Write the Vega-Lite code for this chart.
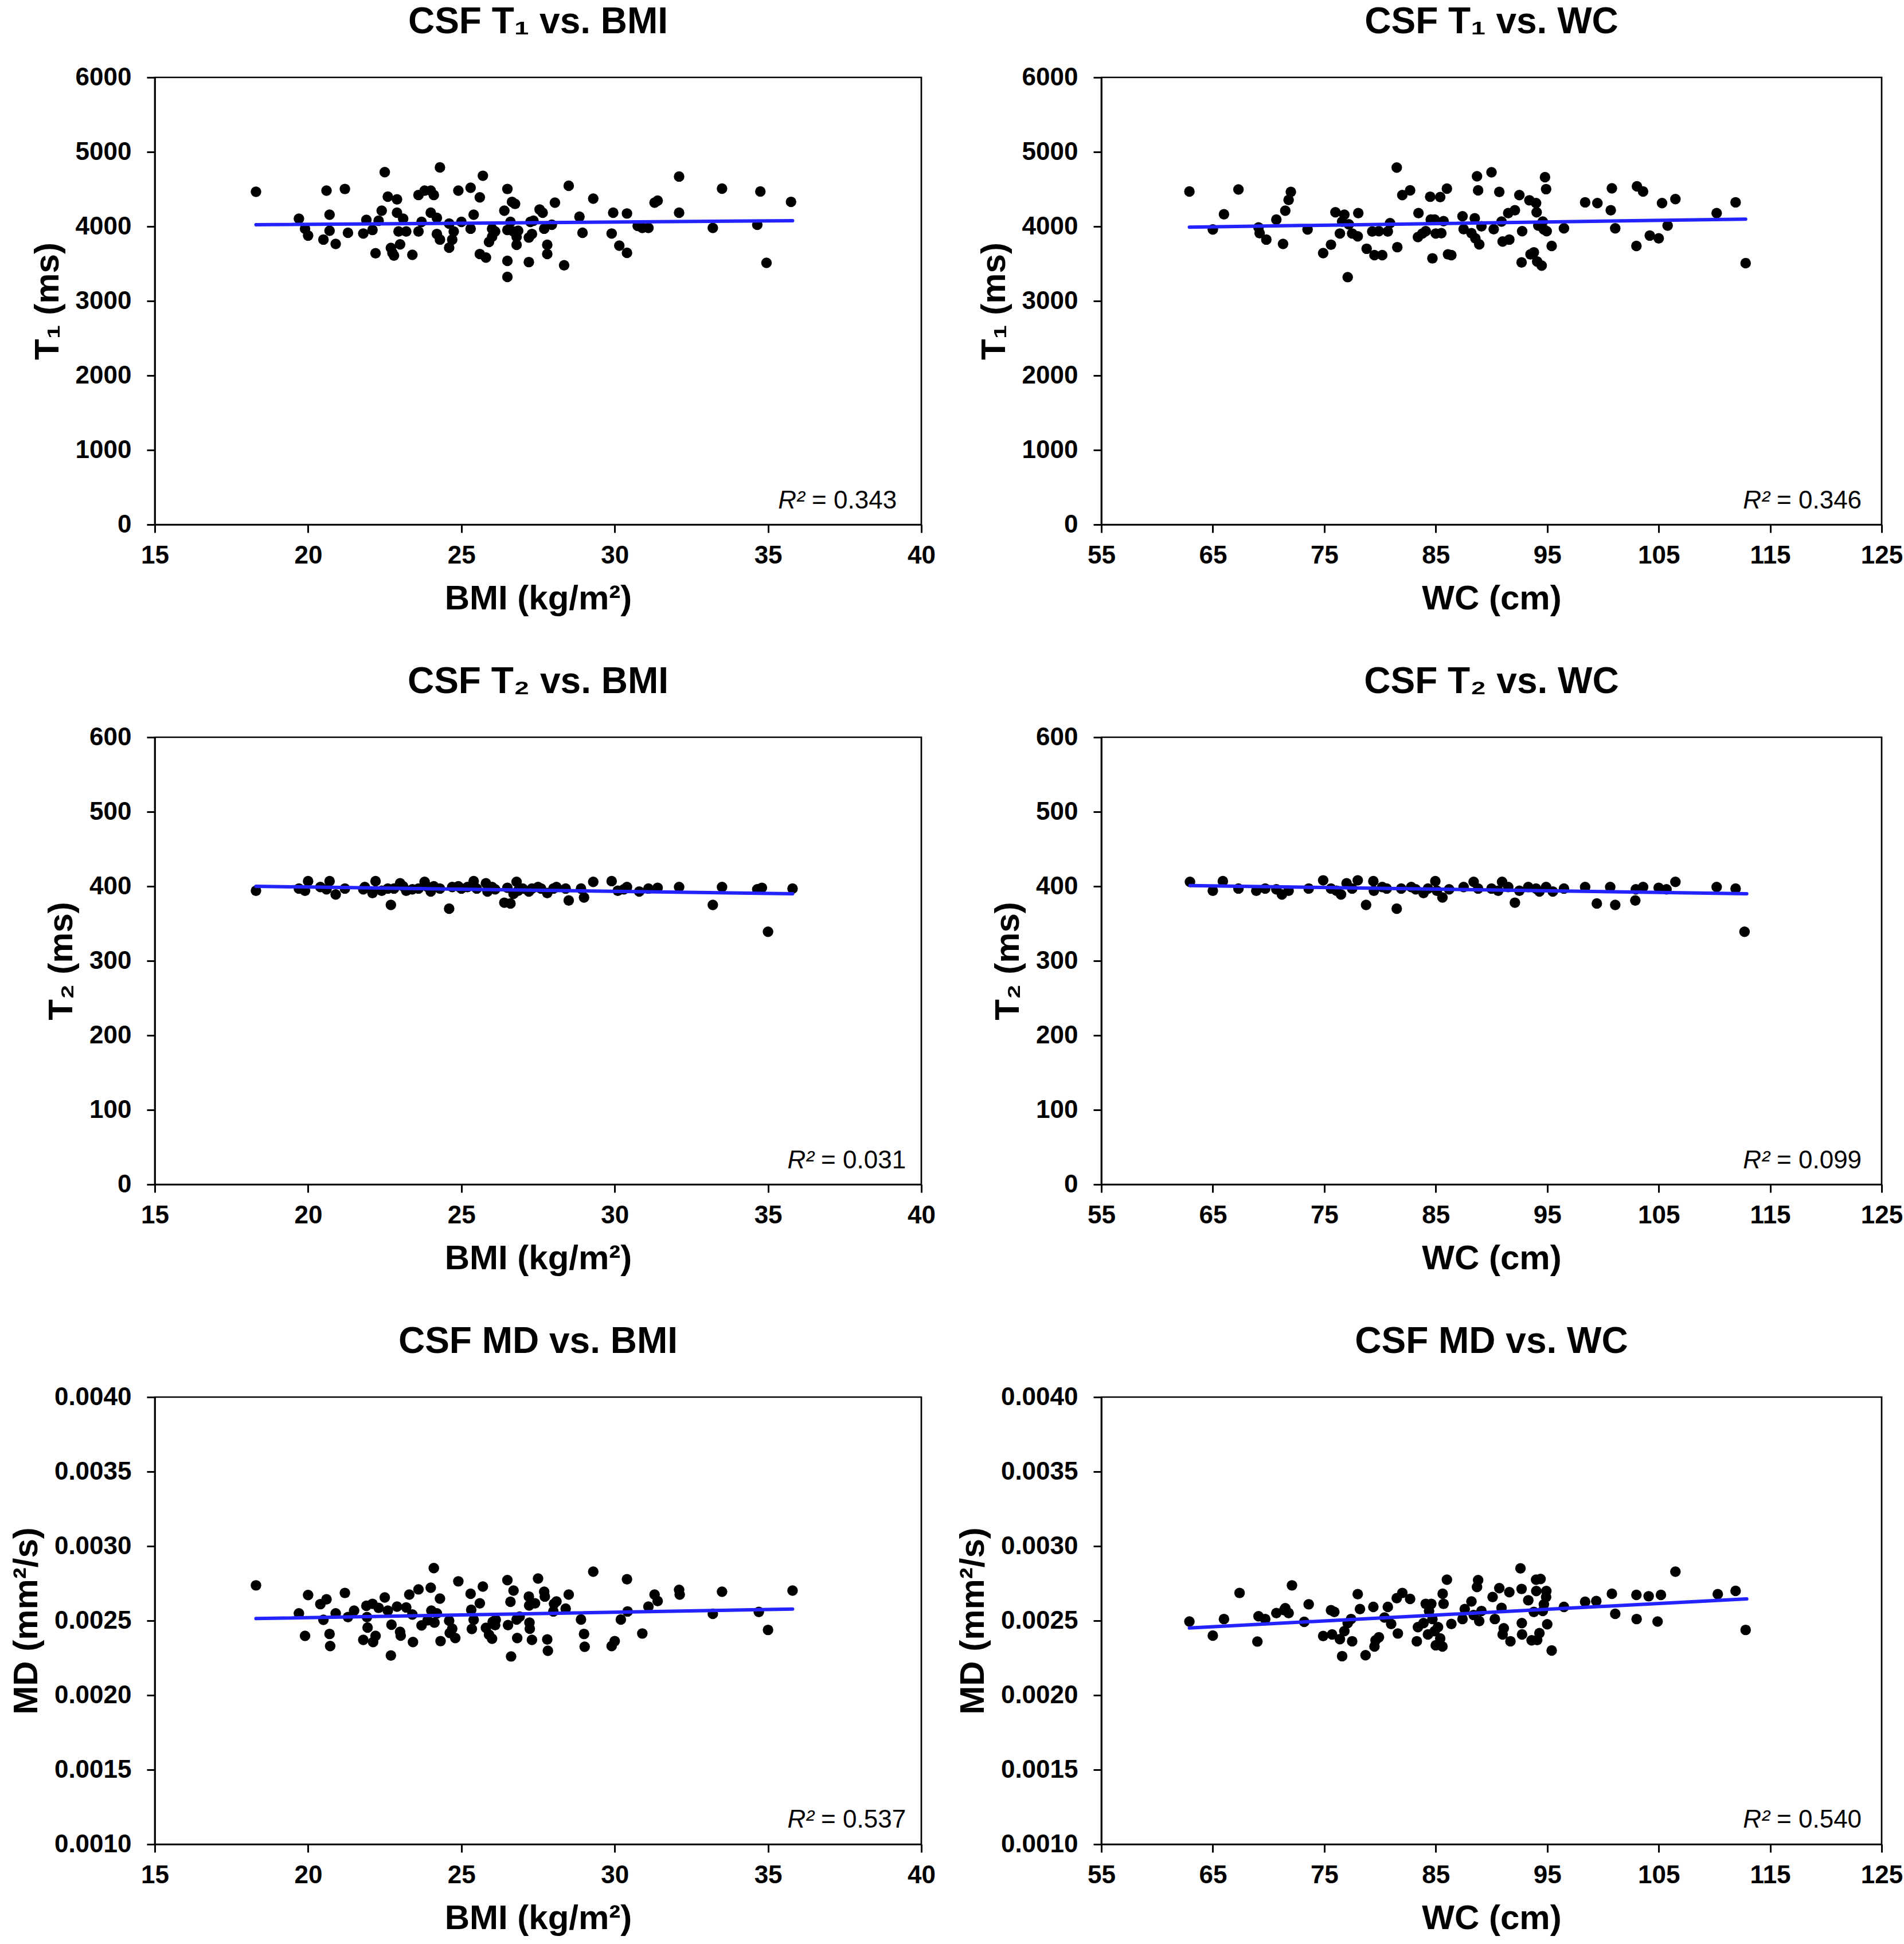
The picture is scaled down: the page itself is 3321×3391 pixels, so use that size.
{
"$schema": "https://vega.github.io/schema/vega-lite/v6.json",
"background": "white",
"padding": {"left": 15, "top": 5, "right": 5, "bottom": 0},
"columns": 2,
"bounds": "flush",
"spacing": {"row": 371, "column": 314},
"datasets": {
"p1": [{"BMI":18.3,"T1":4465},{"BMI":19.7,"T1":4104},{"BMI":19.9,"T1":3970},{"BMI":20.0,"T1":3878},{"BMI":20.5,"T1":3824},{"BMI":20.6,"T1":4481},{"BMI":20.7,"T1":4158},{"BMI":20.7,"T1":3942},{"BMI":20.9,"T1":3765},{"BMI":21.2,"T1":4503},{"BMI":21.3,"T1":3916},{"BMI":21.8,"T1":3905},{"BMI":21.9,"T1":4088},{"BMI":22.1,"T1":3953},{"BMI":22.2,"T1":3641},{"BMI":22.3,"T1":4077},{"BMI":22.4,"T1":4212},{"BMI":22.5,"T1":4729},{"BMI":22.6,"T1":4400},{"BMI":22.7,"T1":3711},{"BMI":22.8,"T1":3609},{"BMI":22.75,"T1":3646},{"BMI":22.9,"T1":4363},{"BMI":22.9,"T1":4185},{"BMI":22.95,"T1":3932},{"BMI":23.0,"T1":3759},{"BMI":23.1,"T1":4104},{"BMI":23.2,"T1":3932},{"BMI":23.4,"T1":3619},{"BMI":23.6,"T1":4422},{"BMI":23.6,"T1":3932},{"BMI":23.7,"T1":4061},{"BMI":23.8,"T1":4481},{"BMI":24.0,"T1":4481},{"BMI":24.1,"T1":4422},{"BMI":24.0,"T1":4185},{"BMI":24.2,"T1":4115},{"BMI":24.2,"T1":3899},{"BMI":24.3,"T1":4793},{"BMI":24.3,"T1":3824},{"BMI":24.6,"T1":4039},{"BMI":24.6,"T1":3716},{"BMI":24.7,"T1":3824},{"BMI":24.75,"T1":3932},{"BMI":24.9,"T1":4481},{"BMI":25.0,"T1":4061},{"BMI":25.3,"T1":4519},{"BMI":25.3,"T1":3970},{"BMI":25.4,"T1":4158},{"BMI":25.6,"T1":4390},{"BMI":25.6,"T1":3630},{"BMI":25.7,"T1":4680},{"BMI":25.8,"T1":3582},{"BMI":25.9,"T1":3792},{"BMI":26.0,"T1":3862},{"BMI":26.0,"T1":3970},{"BMI":26.1,"T1":3932},{"BMI":26.4,"T1":4212},{"BMI":26.5,"T1":4503},{"BMI":26.5,"T1":3953},{"BMI":26.5,"T1":3538},{"BMI":26.5,"T1":3323},{"BMI":26.6,"T1":4061},{"BMI":26.65,"T1":4330},{"BMI":26.7,"T1":3932},{"BMI":26.75,"T1":4303},{"BMI":26.8,"T1":3862},{"BMI":26.8,"T1":3754},{"BMI":26.85,"T1":3942},{"BMI":27.2,"T1":3522},{"BMI":27.2,"T1":3851},{"BMI":27.25,"T1":4061},{"BMI":27.3,"T1":3899},{"BMI":27.35,"T1":4077},{"BMI":27.55,"T1":4228},{"BMI":27.65,"T1":4185},{"BMI":27.7,"T1":3970},{"BMI":27.8,"T1":3754},{"BMI":27.8,"T1":3630},{"BMI":27.95,"T1":4023},{"BMI":28.05,"T1":4319},{"BMI":28.35,"T1":3479},{"BMI":28.5,"T1":4546},{"BMI":28.85,"T1":4131},{"BMI":28.95,"T1":3916},{"BMI":29.3,"T1":4373},{"BMI":29.9,"T1":3905},{"BMI":29.95,"T1":4185},{"BMI":30.15,"T1":3743},{"BMI":30.4,"T1":4174},{"BMI":30.4,"T1":3646},{"BMI":30.75,"T1":4007},{"BMI":30.9,"T1":3980},{"BMI":31.1,"T1":3980},{"BMI":31.3,"T1":4319},{"BMI":31.4,"T1":4346},{"BMI":32.1,"T1":4670},{"BMI":32.1,"T1":4185},{"BMI":33.2,"T1":3980},{"BMI":33.5,"T1":4508},{"BMI":34.65,"T1":4023},{"BMI":34.75,"T1":4470},{"BMI":34.95,"T1":3511},{"BMI":35.75,"T1":4330}],
"l1": [{"BMI":18.3,"T1":4023},{"BMI":35.8,"T1":4077}],
"p2": [{"WC":62.9,"T1":4469},{"WC":65.0,"T1":3959},{"WC":66.0,"T1":4163},{"WC":67.3,"T1":4496},{"WC":69.1,"T1":3986},{"WC":69.2,"T1":3910},{"WC":69.8,"T1":3824},{"WC":70.7,"T1":4093},{"WC":71.3,"T1":3765},{"WC":71.5,"T1":4211},{"WC":71.8,"T1":4356},{"WC":72.0,"T1":4464},{"WC":73.5,"T1":3959},{"WC":74.9,"T1":3642},{"WC":75.6,"T1":3755},{"WC":76.0,"T1":4190},{"WC":76.4,"T1":3905},{"WC":76.6,"T1":4066},{"WC":76.8,"T1":4157},{"WC":77.1,"T1":3320},{"WC":77.2,"T1":4029},{"WC":77.5,"T1":3905},{"WC":78.0,"T1":3867},{"WC":78.05,"T1":4179},{"WC":78.8,"T1":3701},{"WC":79.3,"T1":3932},{"WC":79.5,"T1":3615},{"WC":79.9,"T1":3937},{"WC":80.2,"T1":3615},{"WC":80.7,"T1":3932},{"WC":80.9,"T1":4045},{"WC":81.5,"T1":4791},{"WC":81.55,"T1":3722},{"WC":82.0,"T1":4421},{"WC":82.7,"T1":4485},{"WC":83.4,"T1":3857},{"WC":83.45,"T1":4179},{"WC":83.8,"T1":3905},{"WC":84.1,"T1":3937},{"WC":84.5,"T1":4399},{"WC":84.55,"T1":4093},{"WC":84.7,"T1":3572},{"WC":84.9,"T1":4093},{"WC":85.0,"T1":3905},{"WC":85.4,"T1":4394},{"WC":85.5,"T1":3910},{"WC":85.7,"T1":4071},{"WC":86.0,"T1":4507},{"WC":86.1,"T1":3626},{"WC":86.4,"T1":3615},{"WC":87.4,"T1":4136},{"WC":87.5,"T1":3964},{"WC":88.2,"T1":3910},{"WC":88.5,"T1":4109},{"WC":88.55,"T1":3840},{"WC":88.7,"T1":4673},{"WC":88.8,"T1":4485},{"WC":88.9,"T1":3760},{"WC":89.1,"T1":4002},{"WC":90.0,"T1":4727},{"WC":90.2,"T1":3964},{"WC":90.7,"T1":4464},{"WC":90.9,"T1":4066},{"WC":91.0,"T1":3798},{"WC":91.5,"T1":4179},{"WC":91.6,"T1":3824},{"WC":92.1,"T1":4217},{"WC":92.5,"T1":4421},{"WC":92.7,"T1":3518},{"WC":92.75,"T1":3937},{"WC":93.4,"T1":4351},{"WC":93.5,"T1":3626},{"WC":93.8,"T1":3653},{"WC":94.0,"T1":4313},{"WC":94.05,"T1":4190},{"WC":94.1,"T1":3529},{"WC":94.2,"T1":4012},{"WC":94.5,"T1":3475},{"WC":94.6,"T1":4066},{"WC":94.7,"T1":3959},{"WC":94.8,"T1":4662},{"WC":94.9,"T1":4501},{"WC":94.95,"T1":3937},{"WC":95.4,"T1":3738},{"WC":96.5,"T1":3975},{"WC":98.4,"T1":4324},{"WC":99.5,"T1":4313},{"WC":100.7,"T1":4217},{"WC":100.8,"T1":4512},{"WC":101.1,"T1":3975},{"WC":103.0,"T1":3738},{"WC":103.05,"T1":4539},{"WC":103.6,"T1":4469},{"WC":104.2,"T1":3878},{"WC":105.0,"T1":3840},{"WC":105.3,"T1":4313},{"WC":105.8,"T1":4012},{"WC":106.5,"T1":4367},{"WC":110.2,"T1":4179},{"WC":111.9,"T1":4324},{"WC":112.8,"T1":3508}],
"l2": [{"WC":62.9,"T1":3991},{"WC":112.8,"T1":4098}],
"p3": [{"BMI":18.3,"T2":394},{"BMI":19.7,"T2":397},{"BMI":19.9,"T2":394},{"BMI":20.0,"T2":407},{"BMI":20.4,"T2":399},{"BMI":20.6,"T2":396},{"BMI":20.7,"T2":407},{"BMI":20.9,"T2":389},{"BMI":21.2,"T2":397},{"BMI":21.8,"T2":396},{"BMI":21.85,"T2":399},{"BMI":22.1,"T2":391},{"BMI":22.2,"T2":407},{"BMI":22.4,"T2":394},{"BMI":22.6,"T2":397},{"BMI":22.7,"T2":375},{"BMI":22.8,"T2":397},{"BMI":23.0,"T2":404},{"BMI":23.1,"T2":400},{"BMI":23.2,"T2":394},{"BMI":23.4,"T2":396},{"BMI":23.6,"T2":397},{"BMI":23.8,"T2":406},{"BMI":23.9,"T2":399},{"BMI":24.0,"T2":393},{"BMI":24.1,"T2":400},{"BMI":24.3,"T2":397},{"BMI":24.6,"T2":370},{"BMI":24.7,"T2":399},{"BMI":24.9,"T2":400},{"BMI":25.0,"T2":397},{"BMI":25.2,"T2":399},{"BMI":25.4,"T2":407},{"BMI":25.5,"T2":397},{"BMI":25.8,"T2":404},{"BMI":25.85,"T2":393},{"BMI":26.0,"T2":399},{"BMI":26.1,"T2":396},{"BMI":26.4,"T2":378},{"BMI":26.5,"T2":398},{"BMI":26.6,"T2":377},{"BMI":26.7,"T2":390},{"BMI":26.8,"T2":406},{"BMI":26.85,"T2":394},{"BMI":27.0,"T2":397},{"BMI":27.2,"T2":393},{"BMI":27.3,"T2":397},{"BMI":27.5,"T2":399},{"BMI":27.6,"T2":397},{"BMI":27.8,"T2":391},{"BMI":28.0,"T2":397},{"BMI":28.1,"T2":399},{"BMI":28.4,"T2":397},{"BMI":28.5,"T2":381},{"BMI":28.9,"T2":397},{"BMI":29.0,"T2":385},{"BMI":29.3,"T2":406},{"BMI":29.9,"T2":407},{"BMI":30.1,"T2":394},{"BMI":30.3,"T2":396},{"BMI":30.4,"T2":399},{"BMI":30.8,"T2":393},{"BMI":31.1,"T2":397},{"BMI":31.4,"T2":398},{"BMI":32.1,"T2":399},{"BMI":33.2,"T2":375},{"BMI":33.5,"T2":399},{"BMI":34.65,"T2":396},{"BMI":34.8,"T2":398},{"BMI":35.0,"T2":339},{"BMI":35.8,"T2":397}],
"l3": [{"BMI":18.3,"T2":400},{"BMI":35.8,"T2":390}],
"p4": [{"WC":62.95,"T2":406},{"WC":65.0,"T2":394},{"WC":65.9,"T2":407},{"WC":67.3,"T2":397},{"WC":68.9,"T2":394},{"WC":69.7,"T2":397},{"WC":70.7,"T2":396},{"WC":71.2,"T2":389},{"WC":71.8,"T2":394},{"WC":73.6,"T2":397},{"WC":74.9,"T2":408},{"WC":75.6,"T2":397},{"WC":76.1,"T2":394},{"WC":76.5,"T2":389},{"WC":77.0,"T2":404},{"WC":77.5,"T2":397},{"WC":78.0,"T2":408},{"WC":78.75,"T2":375},{"WC":79.4,"T2":407},{"WC":79.45,"T2":394},{"WC":80.2,"T2":399},{"WC":80.6,"T2":397},{"WC":81.5,"T2":370},{"WC":81.9,"T2":397},{"WC":82.8,"T2":399},{"WC":83.2,"T2":396},{"WC":83.9,"T2":391},{"WC":84.3,"T2":397},{"WC":84.96,"T2":407},{"WC":85.1,"T2":394},{"WC":85.6,"T2":385},{"WC":86.2,"T2":396},{"WC":87.5,"T2":399},{"WC":88.4,"T2":406},{"WC":88.8,"T2":397},{"WC":90.0,"T2":397},{"WC":90.6,"T2":394},{"WC":90.95,"T2":406},{"WC":91.5,"T2":399},{"WC":92.1,"T2":378},{"WC":92.5,"T2":394},{"WC":93.3,"T2":399},{"WC":94.0,"T2":397},{"WC":94.3,"T2":393},{"WC":94.9,"T2":399},{"WC":95.5,"T2":393},{"WC":96.5,"T2":397},{"WC":98.4,"T2":399},{"WC":99.45,"T2":377},{"WC":100.65,"T2":399},{"WC":101.1,"T2":375},{"WC":102.9,"T2":381},{"WC":102.95,"T2":396},{"WC":103.6,"T2":399},{"WC":105.0,"T2":398},{"WC":105.7,"T2":396},{"WC":106.5,"T2":406},{"WC":110.2,"T2":399},{"WC":111.9,"T2":397},{"WC":112.7,"T2":339}],
"l4": [{"WC":62.95,"T2":401},{"WC":112.9,"T2":390}],
"p5": [{"BMI":18.3,"MD":0.002737},{"BMI":19.7,"MD":0.002549},{"BMI":19.9,"MD":0.002398},{"BMI":20.0,"MD":0.002672},{"BMI":20.4,"MD":0.002611},{"BMI":20.5,"MD":0.002506},{"BMI":20.6,"MD":0.002643},{"BMI":20.7,"MD":0.002411},{"BMI":20.72,"MD":0.00233},{"BMI":20.9,"MD":0.002549},{"BMI":21.2,"MD":0.002686},{"BMI":21.3,"MD":0.002524},{"BMI":21.5,"MD":0.002567},{"BMI":21.8,"MD":0.002371},{"BMI":21.9,"MD":0.0026},{"BMI":21.92,"MD":0.002524},{"BMI":21.94,"MD":0.002454},{"BMI":22.1,"MD":0.002613},{"BMI":22.12,"MD":0.002357},{"BMI":22.2,"MD":0.002398},{"BMI":22.3,"MD":0.002586},{"BMI":22.5,"MD":0.002656},{"BMI":22.6,"MD":0.002567},{"BMI":22.7,"MD":0.002266},{"BMI":22.72,"MD":0.002473},{"BMI":22.9,"MD":0.002594},{"BMI":23.0,"MD":0.002425},{"BMI":23.02,"MD":0.0024},{"BMI":23.2,"MD":0.002589},{"BMI":23.3,"MD":0.002675},{"BMI":23.4,"MD":0.002541},{"BMI":23.42,"MD":0.002357},{"BMI":23.6,"MD":0.00271},{"BMI":23.7,"MD":0.002468},{"BMI":23.9,"MD":0.002503},{"BMI":24.0,"MD":0.002721},{"BMI":24.02,"MD":0.002567},{"BMI":24.1,"MD":0.002853},{"BMI":24.12,"MD":0.002487},{"BMI":24.2,"MD":0.002549},{"BMI":24.3,"MD":0.002648},{"BMI":24.32,"MD":0.002363},{"BMI":24.6,"MD":0.0025},{"BMI":24.62,"MD":0.002417},{"BMI":24.7,"MD":0.002446},{"BMI":24.8,"MD":0.002384},{"BMI":24.9,"MD":0.002764},{"BMI":25.3,"MD":0.002681},{"BMI":25.32,"MD":0.002573},{"BMI":25.34,"MD":0.002444},{"BMI":25.4,"MD":0.002506},{"BMI":25.6,"MD":0.002616},{"BMI":25.7,"MD":0.002729},{"BMI":25.8,"MD":0.002452},{"BMI":25.9,"MD":0.002406},{"BMI":26.0,"MD":0.002379},{"BMI":26.02,"MD":0.002492},{"BMI":26.1,"MD":0.00247},{"BMI":26.12,"MD":0.002506},{"BMI":26.5,"MD":0.002772},{"BMI":26.52,"MD":0.00247},{"BMI":26.6,"MD":0.002627},{"BMI":26.62,"MD":0.00226},{"BMI":26.7,"MD":0.002702},{"BMI":26.8,"MD":0.002508},{"BMI":26.82,"MD":0.002384},{"BMI":26.9,"MD":0.002527},{"BMI":27.2,"MD":0.002662},{"BMI":27.21,"MD":0.002602},{"BMI":27.22,"MD":0.002487},{"BMI":27.23,"MD":0.002446},{"BMI":27.3,"MD":0.002371},{"BMI":27.4,"MD":0.002616},{"BMI":27.5,"MD":0.002783},{"BMI":27.7,"MD":0.002694},{"BMI":27.72,"MD":0.002662},{"BMI":27.8,"MD":0.002374},{"BMI":27.82,"MD":0.002298},{"BMI":28.0,"MD":0.002562},{"BMI":28.02,"MD":0.002613},{"BMI":28.1,"MD":0.002629},{"BMI":28.4,"MD":0.002581},{"BMI":28.5,"MD":0.002675},{"BMI":28.9,"MD":0.002508},{"BMI":29.0,"MD":0.002411},{"BMI":29.02,"MD":0.002325},{"BMI":29.3,"MD":0.002829},{"BMI":29.9,"MD":0.00233},{"BMI":30.0,"MD":0.002363},{"BMI":30.2,"MD":0.002508},{"BMI":30.4,"MD":0.002778},{"BMI":30.42,"MD":0.002562},{"BMI":30.9,"MD":0.002414},{"BMI":31.1,"MD":0.002594},{"BMI":31.3,"MD":0.002675},{"BMI":31.4,"MD":0.002632},{"BMI":32.1,"MD":0.002707},{"BMI":32.12,"MD":0.002675},{"BMI":33.2,"MD":0.002546},{"BMI":33.5,"MD":0.002694},{"BMI":34.7,"MD":0.002559},{"BMI":35.0,"MD":0.002438},{"BMI":35.8,"MD":0.002702}],
"l5": [{"BMI":18.3,"MD":0.002514},{"BMI":35.8,"MD":0.002578}],
"p6": [{"WC":62.9,"MD":0.002494},{"WC":65.0,"MD":0.0024},{"WC":66.0,"MD":0.002511},{"WC":67.4,"MD":0.002686},{"WC":69.0,"MD":0.00236},{"WC":69.1,"MD":0.00253},{"WC":69.7,"MD":0.002511},{"WC":70.7,"MD":0.002551},{"WC":71.4,"MD":0.00257},{"WC":71.5,"MD":0.002584},{"WC":71.8,"MD":0.002551},{"WC":72.1,"MD":0.002737},{"WC":73.2,"MD":0.002492},{"WC":73.6,"MD":0.00261},{"WC":74.9,"MD":0.002397},{"WC":75.6,"MD":0.00257},{"WC":75.7,"MD":0.002408},{"WC":75.9,"MD":0.002559},{"WC":76.4,"MD":0.002376},{"WC":76.6,"MD":0.002262},{"WC":76.8,"MD":0.00243},{"WC":77.1,"MD":0.002484},{"WC":77.4,"MD":0.002511},{"WC":77.5,"MD":0.002362},{"WC":78.0,"MD":0.002678},{"WC":78.2,"MD":0.002578},{"WC":78.7,"MD":0.002268},{"WC":79.4,"MD":0.002592},{"WC":79.5,"MD":0.002327},{"WC":79.6,"MD":0.002368},{"WC":79.9,"MD":0.002389},{"WC":80.4,"MD":0.002521},{"WC":80.7,"MD":0.002592},{"WC":81.0,"MD":0.002478},{"WC":81.5,"MD":0.002651},{"WC":81.6,"MD":0.002414},{"WC":82.0,"MD":0.002686},{"WC":82.7,"MD":0.002646},{"WC":83.3,"MD":0.002362},{"WC":83.4,"MD":0.002457},{"WC":83.9,"MD":0.002484},{"WC":84.1,"MD":0.002613},{"WC":84.3,"MD":0.002408},{"WC":84.4,"MD":0.002565},{"WC":84.6,"MD":0.002613},{"WC":84.7,"MD":0.002511},{"WC":84.9,"MD":0.00243},{"WC":85.0,"MD":0.002335},{"WC":85.2,"MD":0.002457},{"WC":85.4,"MD":0.002381},{"WC":85.6,"MD":0.002327},{"WC":85.62,"MD":0.002681},{"WC":85.7,"MD":0.002613},{"WC":86.0,"MD":0.002775},{"WC":86.4,"MD":0.002478},{"WC":87.4,"MD":0.002511},{"WC":87.6,"MD":0.002578},{"WC":88.2,"MD":0.002629},{"WC":88.4,"MD":0.002538},{"WC":88.7,"MD":0.002726},{"WC":88.8,"MD":0.002772},{"WC":88.9,"MD":0.002497},{"WC":89.1,"MD":0.002565},{"WC":90.1,"MD":0.002659},{"WC":90.3,"MD":0.002511},{"WC":90.7,"MD":0.002718},{"WC":90.9,"MD":0.002586},{"WC":91.0,"MD":0.002408},{"WC":91.1,"MD":0.002449},{"WC":91.6,"MD":0.002691},{"WC":91.7,"MD":0.002362},{"WC":92.6,"MD":0.002851},{"WC":92.7,"MD":0.002713},{"WC":92.72,"MD":0.002484},{"WC":92.74,"MD":0.002408},{"WC":93.3,"MD":0.002637},{"WC":93.6,"MD":0.002368},{"WC":93.8,"MD":0.002559},{"WC":94.0,"MD":0.002775},{"WC":94.02,"MD":0.002699},{"WC":94.1,"MD":0.00237},{"WC":94.3,"MD":0.002416},{"WC":94.4,"MD":0.00278},{"WC":94.6,"MD":0.002565},{"WC":94.7,"MD":0.00261},{"WC":94.9,"MD":0.002659},{"WC":94.92,"MD":0.002699},{"WC":95.0,"MD":0.002476},{"WC":95.4,"MD":0.0023},{"WC":96.5,"MD":0.002592},{"WC":98.4,"MD":0.002627},{"WC":99.4,"MD":0.002632},{"WC":100.8,"MD":0.002681},{"WC":101.1,"MD":0.002546},{"WC":103.0,"MD":0.002673},{"WC":103.02,"MD":0.002511},{"WC":104.1,"MD":0.002664},{"WC":104.9,"MD":0.002494},{"WC":105.2,"MD":0.002673},{"WC":106.5,"MD":0.002829},{"WC":110.3,"MD":0.002678},{"WC":111.9,"MD":0.0027},{"WC":112.8,"MD":0.002438}],
"l6": [{"WC":62.9,"MD":0.002451},{"WC":112.9,"MD":0.002646}]
},
"concat": [
{
"width": 1337, "height": 780,
"title": "CSF T₁ vs. BMI",
"layer": [
{"data": {"name": "p1"}, "mark": {"type": "circle", "size": 340, "color": "black", "opacity": 1},
 "encoding": {
  "x": {"field": "BMI", "type": "quantitative", "scale": {"domain": [15, 40], "nice": false, "zero": false}, "axis": {"values": [15, 20, 25, 30, 35, 40], "title": "BMI (kg/m²)"}},
  "y": {"field": "T1", "type": "quantitative", "scale": {"domain": [0, 6000], "nice": false}, "axis": {"values": [0, 1000, 2000, 3000, 4000, 5000, 6000], "format": "d", "title": "T₁ (ms)"}}}},
{"data": {"name": "l1"}, "mark": {"type": "line", "color": "#2323ff", "strokeWidth": 6, "strokeCap": "round"},
 "encoding": {"x": {"field": "BMI", "type": "quantitative"}, "y": {"field": "T1", "type": "quantitative"}}},
{"data": {"values": [{}]}, "mark": {"type": "text", "align": "right", "baseline": "alphabetic", "fontSize": 44, "fontStyle": "italic", "font": "Liberation Sans", "color": "black"},
 "encoding": {"x": {"datum": 36.2, "type": "quantitative"}, "y": {"datum": 215, "type": "quantitative"}, "text": {"value": "R²"}}},
{"data": {"values": [{}]}, "mark": {"type": "text", "align": "left", "baseline": "alphabetic", "fontSize": 44, "font": "Liberation Sans", "color": "black"},
 "encoding": {"x": {"datum": 36.43, "type": "quantitative"}, "y": {"datum": 215, "type": "quantitative"}, "text": {"value": "= 0.343"}}}
]
},
{
"width": 1361, "height": 780,
"title": "CSF T₁ vs. WC",
"layer": [
{"data": {"name": "p2"}, "mark": {"type": "circle", "size": 340, "color": "black", "opacity": 1},
 "encoding": {
  "x": {"field": "WC", "type": "quantitative", "scale": {"domain": [55, 125], "nice": false, "zero": false}, "axis": {"values": [55, 65, 75, 85, 95, 105, 115, 125], "title": "WC (cm)"}},
  "y": {"field": "T1", "type": "quantitative", "scale": {"domain": [0, 6000], "nice": false}, "axis": {"values": [0, 1000, 2000, 3000, 4000, 5000, 6000], "format": "d", "title": "T₁ (ms)"}}}},
{"data": {"name": "l2"}, "mark": {"type": "line", "color": "#2323ff", "strokeWidth": 6, "strokeCap": "round"},
 "encoding": {"x": {"field": "WC", "type": "quantitative"}, "y": {"field": "T1", "type": "quantitative"}}},
{"data": {"values": [{}]}, "mark": {"type": "text", "align": "right", "baseline": "alphabetic", "fontSize": 44, "fontStyle": "italic", "font": "Liberation Sans", "color": "black"},
 "encoding": {"x": {"datum": 114.96, "type": "quantitative"}, "y": {"datum": 215, "type": "quantitative"}, "text": {"value": "R²"}}},
{"data": {"values": [{}]}, "mark": {"type": "text", "align": "left", "baseline": "alphabetic", "fontSize": 44, "font": "Liberation Sans", "color": "black"},
 "encoding": {"x": {"datum": 115.59, "type": "quantitative"}, "y": {"datum": 215, "type": "quantitative"}, "text": {"value": "= 0.346"}}}
]
},
{
"width": 1337, "height": 780,
"title": "CSF T₂ vs. BMI",
"layer": [
{"data": {"name": "p3"}, "mark": {"type": "circle", "size": 340, "color": "black", "opacity": 1},
 "encoding": {
  "x": {"field": "BMI", "type": "quantitative", "scale": {"domain": [15, 40], "nice": false, "zero": false}, "axis": {"values": [15, 20, 25, 30, 35, 40], "title": "BMI (kg/m²)"}},
  "y": {"field": "T2", "type": "quantitative", "scale": {"domain": [0, 600], "nice": false}, "axis": {"values": [0, 100, 200, 300, 400, 500, 600], "format": "d", "title": "T₂ (ms)"}}}},
{"data": {"name": "l3"}, "mark": {"type": "line", "color": "#2323ff", "strokeWidth": 6, "strokeCap": "round"},
 "encoding": {"x": {"field": "BMI", "type": "quantitative"}, "y": {"field": "T2", "type": "quantitative"}}},
{"data": {"values": [{}]}, "mark": {"type": "text", "align": "right", "baseline": "alphabetic", "fontSize": 44, "fontStyle": "italic", "font": "Liberation Sans", "color": "black"},
 "encoding": {"x": {"datum": 36.5, "type": "quantitative"}, "y": {"datum": 21.5, "type": "quantitative"}, "text": {"value": "R²"}}},
{"data": {"values": [{}]}, "mark": {"type": "text", "align": "left", "baseline": "alphabetic", "fontSize": 44, "font": "Liberation Sans", "color": "black"},
 "encoding": {"x": {"datum": 36.73, "type": "quantitative"}, "y": {"datum": 21.5, "type": "quantitative"}, "text": {"value": "= 0.031"}}}
]
},
{
"width": 1361, "height": 780,
"title": "CSF T₂ vs. WC",
"layer": [
{"data": {"name": "p4"}, "mark": {"type": "circle", "size": 340, "color": "black", "opacity": 1},
 "encoding": {
  "x": {"field": "WC", "type": "quantitative", "scale": {"domain": [55, 125], "nice": false, "zero": false}, "axis": {"values": [55, 65, 75, 85, 95, 105, 115, 125], "title": "WC (cm)"}},
  "y": {"field": "T2", "type": "quantitative", "scale": {"domain": [0, 600], "nice": false}, "axis": {"values": [0, 100, 200, 300, 400, 500, 600], "format": "d", "title": "T₂ (ms)"}}}},
{"data": {"name": "l4"}, "mark": {"type": "line", "color": "#2323ff", "strokeWidth": 6, "strokeCap": "round"},
 "encoding": {"x": {"field": "WC", "type": "quantitative"}, "y": {"field": "T2", "type": "quantitative"}}},
{"data": {"values": [{}]}, "mark": {"type": "text", "align": "right", "baseline": "alphabetic", "fontSize": 44, "fontStyle": "italic", "font": "Liberation Sans", "color": "black"},
 "encoding": {"x": {"datum": 114.96, "type": "quantitative"}, "y": {"datum": 21.5, "type": "quantitative"}, "text": {"value": "R²"}}},
{"data": {"values": [{}]}, "mark": {"type": "text", "align": "left", "baseline": "alphabetic", "fontSize": 44, "font": "Liberation Sans", "color": "black"},
 "encoding": {"x": {"datum": 115.59, "type": "quantitative"}, "y": {"datum": 21.5, "type": "quantitative"}, "text": {"value": "= 0.099"}}}
]
},
{
"width": 1337, "height": 780,
"title": "CSF MD vs. BMI",
"layer": [
{"data": {"name": "p5"}, "mark": {"type": "circle", "size": 340, "color": "black", "opacity": 1},
 "encoding": {
  "x": {"field": "BMI", "type": "quantitative", "scale": {"domain": [15, 40], "nice": false, "zero": false}, "axis": {"values": [15, 20, 25, 30, 35, 40], "title": "BMI (kg/m²)"}},
  "y": {"field": "MD", "type": "quantitative", "scale": {"domain": [0.001, 0.004], "nice": false, "zero": false}, "axis": {"values": [0.001, 0.0015, 0.002, 0.0025, 0.003, 0.0035, 0.004], "format": ".4f", "title": "MD (mm²/s)"}}}},
{"data": {"name": "l5"}, "mark": {"type": "line", "color": "#2323ff", "strokeWidth": 6, "strokeCap": "round"},
 "encoding": {"x": {"field": "BMI", "type": "quantitative"}, "y": {"field": "MD", "type": "quantitative"}}},
{"data": {"values": [{}]}, "mark": {"type": "text", "align": "right", "baseline": "alphabetic", "fontSize": 44, "fontStyle": "italic", "font": "Liberation Sans", "color": "black"},
 "encoding": {"x": {"datum": 36.5, "type": "quantitative"}, "y": {"datum": 0.00111, "type": "quantitative"}, "text": {"value": "R²"}}},
{"data": {"values": [{}]}, "mark": {"type": "text", "align": "left", "baseline": "alphabetic", "fontSize": 44, "font": "Liberation Sans", "color": "black"},
 "encoding": {"x": {"datum": 36.73, "type": "quantitative"}, "y": {"datum": 0.00111, "type": "quantitative"}, "text": {"value": "= 0.537"}}}
]
},
{
"width": 1361, "height": 780,
"title": "CSF MD vs. WC",
"layer": [
{"data": {"name": "p6"}, "mark": {"type": "circle", "size": 340, "color": "black", "opacity": 1},
 "encoding": {
  "x": {"field": "WC", "type": "quantitative", "scale": {"domain": [55, 125], "nice": false, "zero": false}, "axis": {"values": [55, 65, 75, 85, 95, 105, 115, 125], "title": "WC (cm)"}},
  "y": {"field": "MD", "type": "quantitative", "scale": {"domain": [0.001, 0.004], "nice": false, "zero": false}, "axis": {"values": [0.001, 0.0015, 0.002, 0.0025, 0.003, 0.0035, 0.004], "format": ".4f", "title": "MD (mm²/s)"}}}},
{"data": {"name": "l6"}, "mark": {"type": "line", "color": "#2323ff", "strokeWidth": 6, "strokeCap": "round"},
 "encoding": {"x": {"field": "WC", "type": "quantitative"}, "y": {"field": "MD", "type": "quantitative"}}},
{"data": {"values": [{}]}, "mark": {"type": "text", "align": "right", "baseline": "alphabetic", "fontSize": 44, "fontStyle": "italic", "font": "Liberation Sans", "color": "black"},
 "encoding": {"x": {"datum": 114.96, "type": "quantitative"}, "y": {"datum": 0.00111, "type": "quantitative"}, "text": {"value": "R²"}}},
{"data": {"values": [{}]}, "mark": {"type": "text", "align": "left", "baseline": "alphabetic", "fontSize": 44, "font": "Liberation Sans", "color": "black"},
 "encoding": {"x": {"datum": 115.59, "type": "quantitative"}, "y": {"datum": 0.00111, "type": "quantitative"}, "text": {"value": "= 0.540"}}}
]
}
],
"config": {
 "font": "Liberation Sans",
 "view": {"stroke": "black", "strokeWidth": 2.7},
 "axis": {"grid": false, "domainColor": "black", "domainWidth": 2.7, "tickColor": "black", "tickWidth": 3, "tickSize": 14,
  "labelFont": "Liberation Sans", "labelFontSize": 44, "labelFontWeight": "bold", "labelColor": "black", "labelOverlap": false, "labelFlush": false,
  "titleFont": "Liberation Sans", "titleFontSize": 60, "titleFontWeight": "bold", "titleColor": "black"},
 "axisX": {"labelPadding": 18, "titlePadding": 24},
 "axisY": {"labelPadding": 27, "titlePadding": 17},
 "title": {"font": "Liberation Sans", "fontSize": 64, "fontWeight": "bold", "color": "black", "offset": 42, "anchor": "middle"}
}
}
